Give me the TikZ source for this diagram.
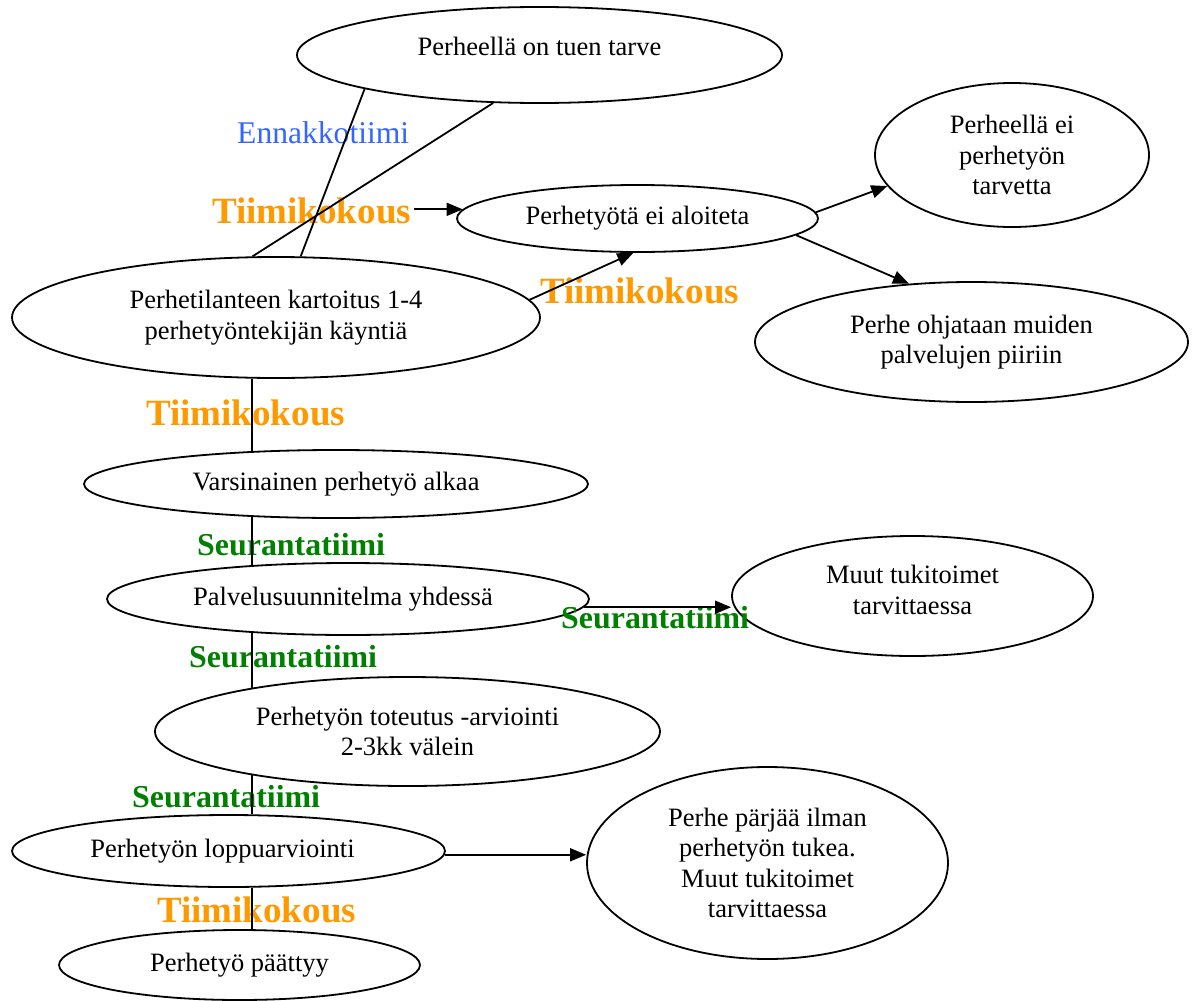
\documentclass[tikz,border=0pt]{standalone}
\usepackage{fontspec}
\setmainfont{Liberation Serif}
\usetikzlibrary{shapes.geometric,arrows.meta}
\definecolor{tiimiorange}{HTML}{FF9900}
\definecolor{seurgreen}{HTML}{008000}
\definecolor{ennblue}{HTML}{3366FF}
\tikzset{
  oval/.style={draw, ellipse, inner sep=0pt, line width=1.8pt, align=center},
  conn/.style={line width=1.8pt},
  arr/.style={line width=1.8pt, -{Triangle[length=16pt,width=13pt]}},
  tiimi/.style={anchor=base west, inner sep=0pt, text=tiimiorange, font=\fontsize{37}{40}\selectfont\bfseries},
  seur/.style={anchor=base west, inner sep=0pt, text=seurgreen, font=\fontsize{31.9}{35}\selectfont\bfseries},
  enna/.style={anchor=base west, inner sep=0pt, text=ennblue, font=\fontsize{31.6}{35}\selectfont},
}
\begin{document}
\begin{tikzpicture}[x=1pt,y=-1pt,font=\fontsize{26.5}{30.5}\selectfont]
\useasboundingbox (0,0) rectangle (1194,1001);

% ellipses
\node[oval, minimum width=485pt, minimum height=96pt, label={[yshift=9pt]center:Perheellä on tuen tarve}] (e1) at (539.5,55) {};
\node[oval, minimum width=274pt, minimum height=144pt] (e2) at (1012,155) {Perheellä ei\\perhetyön\\tarvetta};
\node[oval, minimum width=361pt, minimum height=67pt] (e3) at (637.5,218.5) {Perhetyötä ei aloiteta};
\node[oval, minimum width=528pt, minimum height=121pt] (e4) at (276,317.5) {Perhetilanteen kartoitus 1-4\\perhetyöntekijän käyntiä};
\node[oval, minimum width=433pt, minimum height=120pt] (e5) at (971.5,342) {Perhe ohjataan muiden\\palvelujen piiriin};
\node[oval, minimum width=504pt, minimum height=68pt] (e6) at (336,484) {Varsinainen perhetyö alkaa};
\node[oval, minimum width=482pt, minimum height=72pt, label={[xshift=-5pt]center:Palvelusuunnitelma yhdessä}] (e7) at (348,599) {};
\node[oval, minimum width=361pt, minimum height=120pt, label={[yshift=3pt]center:{\begin{tabular}{@{}c@{}}Muut tukitoimet\\tarvittaessa\end{tabular}}}] (e8) at (912.5,596) {};
\node[oval, minimum width=505pt, minimum height=109pt] (e9) at (407.5,731.5) {Perhetyön toteutus -arviointi\\2-3kk välein};
\node[oval, minimum width=433pt, minimum height=72pt, label={[xshift=-6pt]center:Perhetyön loppuarviointi}] (e10) at (228.5,851) {};
\node[oval, minimum width=361pt, minimum height=192pt] (e11) at (767.5,863) {Perhe pärjää ilman\\perhetyön tukea.\\Muut tukitoimet\\tarvittaessa};
\node[oval, minimum width=361pt, minimum height=70pt] (e12) at (239.5,965) {Perhetyö päättyy};

% labels
\node[enna] (en) at (237,143) {Ennakkotiimi};
\node[tiimi] (t1) at (212,223) {Tiimikokous};
\node[tiimi] (t2) at (540,303) {Tiimikokous};
\node[tiimi] (t3) at (146,425) {Tiimikokous};
\node[tiimi] (t4) at (157,922) {Tiimikokous};
\node[seur] (s1) at (197,555) {Seurantatiimi};
\node[seur] (s2) at (561,628) {Seurantatiimi};
\node[seur] (s3) at (189,667) {Seurantatiimi};
\node[seur] (s4) at (132,807) {Seurantatiimi};

\coordinate (vx) at (252,0);

% connectors
\draw[conn] (e1.-169) -- (e4.68);
\draw[conn] (e1.-134) -- (e4.111);
\draw[arr, shorten <=3pt] (t1.east |- e3.177) -- (e3.177);
\draw[arr] (e4.4) -- (e3.-97);
\draw[arr] (e3.2) -- (e2.-166);
\draw[arr] (e3.-6) -- (e5.137);
\draw[arr] (e7.-2) -- (e7.-2 -| e8.west);
\draw[arr] (e10.-1) -- (e10.-1 -| e11.west);
\draw[conn] (e4.-112 -| vx) -- (e6.159 -| vx);
\draw[conn] (e6.-159 -| vx) -- (e7.161 -| vx);
\draw[conn] (e7.-161 -| vx) -- (e9.165 -| vx);
\draw[conn] (e9.-165 -| vx) -- (e10.57 -| vx);
\draw[conn] (e10.-57 -| vx) -- (e12.71 -| vx);
\end{tikzpicture}
\end{document}
